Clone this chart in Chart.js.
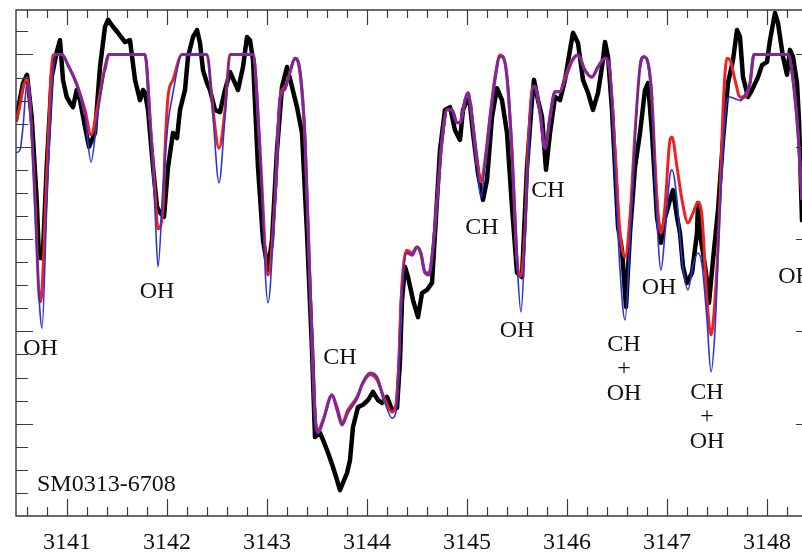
<!DOCTYPE html>
<html>
<head>
<meta charset="utf-8">
<script src="https://cdn.jsdelivr.net/npm/chart.js@4/dist/chart.umd.min.js"></script>
<style>
  html, body { margin: 0; padding: 0; background: #fff; }
  #wrap { width: 802px; height: 555px; position: relative; }
</style>
</head>
<body>
<div id="wrap"><canvas id="spec"></canvas></div>
<script>
// Synthetic spectra (two model fits) sampled on a common wavelength grid
const modelWave = [3140.49,3140.53,3140.56,3140.60,3140.64,3140.68,3140.73,3140.75,3140.80,3140.86,3140.90,3140.95,3141.01,3141.10,3141.18,3141.24,3141.30,3141.38,3141.42,3141.78,3141.83,3141.88,3141.91,3141.96,3141.98,3142.01,3142.06,3142.15,3142.40,3142.46,3142.52,3142.58,3142.63,3142.86,3142.93,3143.01,3143.08,3143.13,3143.18,3143.23,3143.28,3143.33,3143.38,3143.43,3143.48,3143.51,3143.56,3143.65,3143.70,3143.75,3143.81,3143.90,3143.96,3144.03,3144.10,3144.18,3144.25,3144.30,3144.35,3144.40,3144.45,3144.50,3144.54,3144.58,3144.62,3144.66,3144.70,3144.75,3144.80,3144.85,3144.90,3144.93,3144.98,3145.01,3145.05,3145.10,3145.14,3145.18,3145.23,3145.28,3145.33,3145.36,3145.40,3145.45,3145.50,3145.54,3145.58,3145.61,3145.66,3145.68,3145.73,3145.78,3145.83,3145.88,3145.93,3145.98,3146.05,3146.11,3146.18,3146.25,3146.31,3146.38,3146.43,3146.48,3146.53,3146.58,3146.63,3146.68,3146.73,3146.77,3146.81,3146.85,3146.90,3146.94,3146.98,3147.03,3147.05,3147.10,3147.15,3147.21,3147.26,3147.31,3147.35,3147.40,3147.44,3147.48,3147.53,3147.56,3147.60,3147.63,3147.68,3147.73,3147.78,3147.83,3147.87,3148.21,3148.26,3148.31,3148.35];
const modelRed  = [0.854,0.891,0.927,0.949,0.858,0.685,0.464,0.490,0.750,0.999,1.000,1.000,0.977,0.934,0.880,0.826,0.880,0.973,1.000,1.000,0.865,0.700,0.622,0.670,0.793,0.908,0.945,1.000,1.000,0.880,0.797,0.880,1.000,1.000,0.793,0.522,0.685,0.908,0.930,0.962,0.992,0.960,0.815,0.505,0.223,0.186,0.208,0.262,0.236,0.202,0.230,0.258,0.288,0.306,0.295,0.251,0.225,0.258,0.505,0.576,0.570,0.583,0.566,0.527,0.527,0.583,0.685,0.815,0.880,0.880,0.852,0.852,0.901,0.917,0.865,0.771,0.724,0.771,0.865,0.951,0.999,0.995,0.951,0.787,0.555,0.520,0.620,0.793,0.930,0.930,0.873,0.797,0.865,0.919,0.919,0.951,0.988,0.999,0.966,0.951,0.973,0.992,0.960,0.793,0.613,0.561,0.648,0.830,0.973,0.995,0.982,0.901,0.685,0.613,0.670,0.815,0.821,0.756,0.685,0.635,0.657,0.680,0.648,0.468,0.392,0.468,0.685,0.880,0.992,0.988,0.945,0.908,0.908,0.938,1.000,1.000,0.945,0.830,0.685];
const modelBlue = [0.787,0.793,0.843,0.938,0.869,0.663,0.442,0.407,0.685,0.956,1.000,1.000,0.977,0.934,0.869,0.767,0.858,0.966,1.000,1.000,0.858,0.663,0.540,0.713,0.771,0.850,0.917,1.000,1.000,0.865,0.722,0.865,1.000,1.000,0.793,0.462,0.685,0.901,0.925,0.962,0.992,0.965,0.820,0.505,0.220,0.180,0.205,0.262,0.230,0.197,0.225,0.255,0.290,0.310,0.300,0.245,0.212,0.240,0.490,0.570,0.565,0.583,0.570,0.527,0.522,0.583,0.680,0.810,0.880,0.880,0.852,0.852,0.901,0.917,0.860,0.760,0.691,0.760,0.860,0.945,0.995,0.995,0.951,0.790,0.555,0.442,0.600,0.770,0.925,0.930,0.873,0.797,0.865,0.919,0.919,0.945,0.985,0.999,0.966,0.951,0.973,0.992,0.960,0.750,0.533,0.425,0.598,0.815,0.973,0.995,0.982,0.901,0.641,0.533,0.613,0.739,0.750,0.685,0.555,0.490,0.544,0.570,0.544,0.425,0.312,0.403,0.663,0.793,0.901,0.908,0.904,0.901,0.912,0.938,1.000,1.000,0.945,0.830,0.685];

// Observed spectrum of SM0313-6708
const obsWave = [3140.49,3140.56,3140.60,3140.647,3140.697,3140.72,3140.757,3140.797,3140.847,3140.897,3140.93,3140.96,3140.997,3141.03,3141.06,3141.097,3141.13,3141.18,3141.22,3141.28,3141.33,3141.38,3141.41,3141.46,3141.51,3141.58,3141.63,3141.68,3141.73,3141.76,3141.78,3141.81,3141.86,3141.90,3141.93,3141.97,3142.01,3142.06,3142.10,3142.13,3142.18,3142.21,3142.26,3142.30,3142.33,3142.36,3142.40,3142.43,3142.48,3142.53,3142.58,3142.63,3142.68,3142.71,3142.76,3142.80,3142.83,3142.86,3142.91,3142.96,3143.01,3143.05,3143.10,3143.15,3143.20,3143.25,3143.30,3143.35,3143.40,3143.45,3143.48,3143.53,3143.56,3143.61,3143.66,3143.70,3143.73,3143.76,3143.80,3143.83,3143.86,3143.91,3143.96,3144.01,3144.06,3144.11,3144.15,3144.20,3144.25,3144.30,3144.33,3144.35,3144.38,3144.41,3144.46,3144.51,3144.55,3144.60,3144.65,3144.68,3144.73,3144.78,3144.83,3144.88,3144.93,3144.96,3145.00,3145.03,3145.06,3145.11,3145.16,3145.20,3145.25,3145.30,3145.35,3145.40,3145.45,3145.50,3145.55,3145.60,3145.65,3145.67,3145.71,3145.75,3145.79,3145.83,3145.88,3145.93,3145.98,3146.03,3146.06,3146.11,3146.16,3146.21,3146.26,3146.31,3146.35,3146.38,3146.41,3146.45,3146.48,3146.51,3146.55,3146.59,3146.63,3146.68,3146.73,3146.78,3146.81,3146.85,3146.90,3146.94,3146.98,3147.03,3147.06,3147.10,3147.13,3147.16,3147.20,3147.25,3147.30,3147.31,3147.34,3147.39,3147.42,3147.46,3147.51,3147.56,3147.61,3147.66,3147.70,3147.73,3147.76,3147.81,3147.85,3147.91,3147.95,3148.00,3148.03,3148.08,3148.11,3148.16,3148.20,3148.23,3148.26,3148.30,3148.32,3148.35];
const obsFlux = [0.858,0.938,0.956,0.865,0.685,0.559,0.559,0.756,0.951,1.005,1.031,0.945,0.908,0.895,0.886,0.923,0.901,0.843,0.800,0.830,0.973,1.060,1.075,1.060,1.047,1.027,1.031,0.945,0.901,0.923,0.917,0.880,0.756,0.670,0.657,0.648,0.756,0.830,0.819,0.880,0.923,0.995,1.038,1.053,1.025,0.966,0.938,0.923,0.880,0.875,0.923,0.962,0.938,0.923,0.973,1.038,1.031,0.988,0.756,0.598,0.533,0.598,0.793,0.930,0.973,0.930,0.886,0.830,0.613,0.360,0.171,0.180,0.165,0.137,0.106,0.078,0.056,0.072,0.093,0.121,0.193,0.236,0.241,0.251,0.269,0.251,0.245,0.258,0.230,0.234,0.338,0.468,0.540,0.518,0.468,0.431,0.483,0.490,0.505,0.613,0.793,0.880,0.886,0.836,0.815,0.880,0.901,0.891,0.830,0.743,0.685,0.728,0.865,0.927,0.901,0.830,0.670,0.527,0.518,0.756,0.901,0.945,0.901,0.865,0.750,0.830,0.908,0.901,0.945,1.010,1.047,1.025,0.945,0.917,0.880,0.917,0.973,1.027,0.995,0.880,0.756,0.627,0.576,0.453,0.613,0.756,0.830,0.923,0.938,0.830,0.648,0.592,0.646,0.685,0.706,0.648,0.613,0.540,0.505,0.527,0.613,0.678,0.598,0.527,0.462,0.555,0.663,0.815,0.938,0.988,1.053,1.038,0.951,0.908,0.923,0.951,0.977,0.984,1.031,1.090,1.068,0.995,0.956,1.010,0.995,0.938,0.858,0.641];

// Axis ticks
const xTickLabels = [3141, 3142, 3143, 3144, 3145, 3146, 3147, 3148];

// Line identifications
const labelText = ['OH', 'OH', 'CH', 'CH', 'OH', 'CH', 'CH\n+\nOH', 'OH', 'CH\n+\nOH', 'OH'];
const labelWave = [3140.735, 3141.90, 3143.73, 3145.15, 3145.50, 3145.81, 3146.57, 3146.92, 3147.40, 3148.285];
const labelFlux = [0.362, 0.485, 0.342, 0.624, 0.401, 0.704, 0.319, 0.494, 0.2145, 0.518];
const starName = 'SM0313-6708';
const starPos = [3140.70, 0.067];

const SERIF = '"Liberation Serif", "DejaVu Serif", serif';
const PURPLE = '#7a2a9c';
const BLUE = '#2a34d8';
const RED = '#ee2222';

const pts = (xs, ys) => xs.map((v, i) => ({ x: v, y: ys[i] }));
const agree = i => Math.abs(modelRed[i] - modelBlue[i]) < 0.012;

const framePlugin = {
  id: 'frame',
  afterDatasetsDraw(chart) {
    const { ctx, chartArea: a, scales: { x, y } } = chart;
    ctx.save();
    ctx.strokeStyle = '#3a3a3a';
    ctx.lineWidth = 1.4;
    ctx.beginPath();
    ctx.moveTo(a.right + 2, a.top);
    ctx.lineTo(a.left, a.top);
    ctx.lineTo(a.left, a.bottom);
    ctx.lineTo(a.right + 2, a.bottom);
    ctx.stroke();

    ctx.lineWidth = 1.2;
    ctx.beginPath();
    // wavelength ticks every 0.2, longer on whole numbers
    for (let k = Math.ceil(x.min * 5); k <= Math.floor(x.max * 5); k++) {
      const px = Math.round(x.getPixelForValue(k / 5)) + 0.5;
      const major = k % 5 === 0;
      ctx.moveTo(px, a.bottom); ctx.lineTo(px, a.bottom - (major ? 17 : 9));
      ctx.moveTo(px, a.top); ctx.lineTo(px, a.top + (major ? 15 : 8));
    }
    // flux ticks every 0.05, longer every 0.2
    for (let k = 1; k <= Math.floor(y.max * 20); k++) {
      const py = Math.round(y.getPixelForValue(k / 20)) + 0.5;
      const major = k % 4 === 0;
      ctx.moveTo(a.left, py); ctx.lineTo(a.left + (major ? 17 : 12), py);
      if (major) { ctx.moveTo(a.right, py); ctx.lineTo(a.right - 6, py); }
    }
    ctx.stroke();

    ctx.fillStyle = '#111';
    ctx.font = '24px ' + SERIF;
    ctx.textAlign = 'center';
    ctx.textBaseline = 'middle';
    xTickLabels.forEach(v => ctx.fillText(String(v), x.getPixelForValue(v), a.bottom + 27));

    labelText.forEach((t, i) => {
      const lines = t.split('\n');
      const cx = x.getPixelForValue(labelWave[i]);
      const cy = y.getPixelForValue(labelFlux[i]);
      lines.forEach((ln, j) => ctx.fillText(ln, cx, cy + (j - (lines.length - 1) / 2) * 24.5));
    });

    ctx.textAlign = 'left';
    ctx.fillText(starName, x.getPixelForValue(starPos[0]), y.getPixelForValue(starPos[1]));
    ctx.restore();
  }
};

new Chart(document.getElementById('spec'), {
  type: 'line',
  data: {
    datasets: [
      {
        label: 'model (blue)',
        data: pts(modelWave, modelBlue),
        borderColor: BLUE,
        borderWidth: 1.6,
        cubicInterpolationMode: 'monotone',
        pointRadius: 0,
        order: 1,
        segment: {
          borderColor: c => (agree(c.p0DataIndex) && agree(c.p1DataIndex)) ? PURPLE : BLUE,
          borderWidth: c => (agree(c.p0DataIndex) && agree(c.p1DataIndex)) ? 3 : 1.6
        }
      },
      {
        label: 'model (red)',
        data: pts(modelWave, modelRed),
        borderColor: RED,
        borderWidth: 3,
        cubicInterpolationMode: 'monotone',
        pointRadius: 0,
        order: 2
      },
      {
        label: 'observed',
        data: pts(obsWave, obsFlux),
        borderColor: '#000',
        borderWidth: 4.5,
        tension: 0,
        borderJoinStyle: 'round',
        borderCapStyle: 'round',
        pointRadius: 0,
        order: 3
      }
    ]
  },
  options: {
    responsive: true,
    maintainAspectRatio: false,
    animation: false,
    events: [],
    layout: { padding: { left: 16, top: 10, right: 0, bottom: 39 } },
    plugins: { legend: { display: false }, tooltip: { enabled: false } },
    scales: {
      x: { type: 'linear', min: 3140.49, max: 3148.35, display: false },
      y: { type: 'linear', min: 0, max: 1.0964, display: false }
    }
  },
  plugins: [framePlugin]
});
</script>
</body>
</html>
